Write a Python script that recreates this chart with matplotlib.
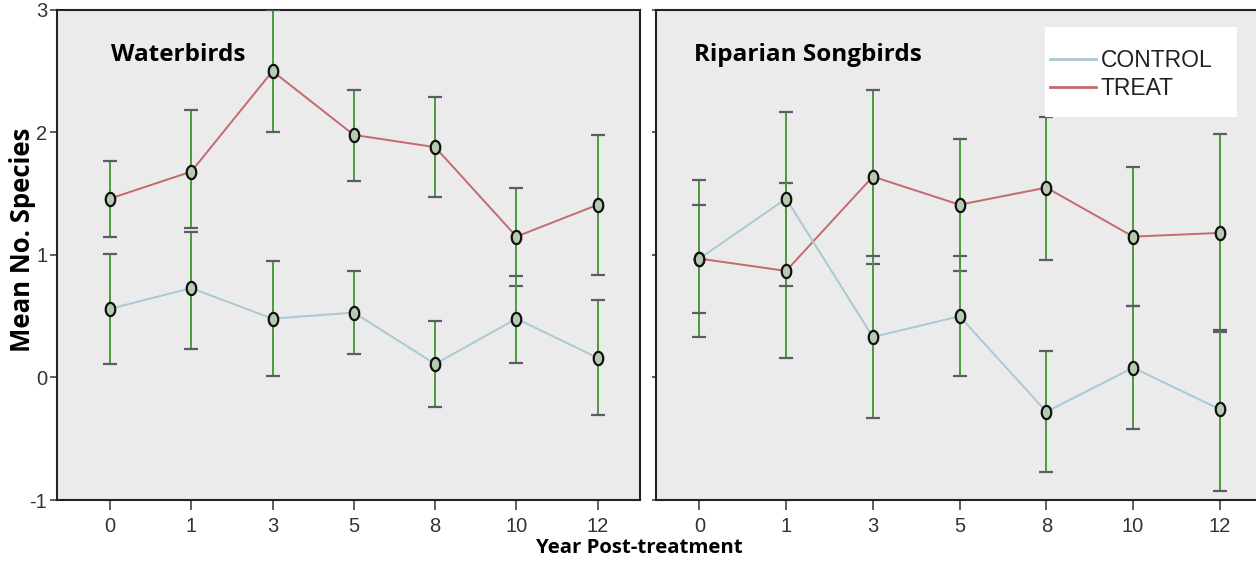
import numpy as np
import matplotlib
matplotlib.use("Agg")
import matplotlib.pyplot as plt
from matplotlib.path import Path
from matplotlib.lines import Line2D
from matplotlib.patches import Rectangle

plt.rcParams["axes.unicode_minus"] = False

# x categories
years = ["0", "1", "3", "5", "8", "10", "12"]

# Waterbirds
wb_control = [0.56, 0.73, 0.48, 0.53, 0.11, 0.48, 0.16]
wb_control_hi = [1.01, 1.19, 0.95, 0.87, 0.46, 0.83, 0.63]
wb_control_lo = [0.11, 0.23, 0.01, 0.19, -0.24, 0.12, -0.31]
wb_treat = [1.46, 1.68, 2.50, 1.98, 1.88, 1.15, 1.41]
wb_treat_hi = [1.77, 2.18, 3.00, 2.35, 2.29, 1.55, 1.98]
wb_treat_lo = [1.15, 1.22, 2.00, 1.60, 1.47, 0.75, 0.84]

# Riparian songbirds
rs_control = [0.97, 1.46, 0.33, 0.50, -0.28, 0.08, -0.26]
rs_control_hi = [1.41, 2.17, 0.99, 0.99, 0.22, 0.58, 0.39]
rs_control_lo = [0.53, 0.75, -0.33, 0.01, -0.77, -0.42, -0.93]
rs_treat = [0.97, 0.87, 1.64, 1.41, 1.55, 1.15, 1.18]
rs_treat_hi = [1.61, 1.59, 2.35, 1.95, 2.13, 1.72, 1.99]
rs_treat_lo = [0.33, 0.16, 0.93, 0.87, 0.96, 0.58, 0.37]

CTRL_COL = "#aac8d6"
TREAT_COL = "#c46a6e"
ERR_COL = "#4a9a3a"
CAP_COL = "#5c5c68"
BG = "#ebebeb"

tick_font = ["Liberation Sans Narrow", "Liberation Sans", "DejaVu Sans"]
title_font = ["Open Sans", "DejaVu Sans"]

# tall ellipse marker like the SPSS circles
t = np.linspace(0, 2 * np.pi, 60)
ell = Path(np.column_stack([0.72 * np.cos(t), np.sin(t)]), closed=True)


def draw_series(ax, x, mean, hi, lo, color):
    mean = np.array(mean)
    yerr = [mean - np.array(lo), np.array(hi) - mean]
    ax.plot(x, mean, color=color, lw=1.4, zorder=2)
    _, caps, bars = ax.errorbar(x, mean, yerr=yerr, fmt="none", ecolor=ERR_COL,
                                elinewidth=1.4, capsize=5, capthick=1.6, zorder=3)
    for c in caps:
        c.set_color(CAP_COL)
        c.set_markeredgecolor(CAP_COL)
    ax.plot(x, mean, ls="none", marker=ell, ms=9.5, mfc="#b7cbb2",
            mec="#111111", mew=1.6, zorder=4)


def style_axes(ax):
    ax.set_facecolor(BG)
    ax.set_ylim(-1, 3)
    ax.set_xticks(range(len(years)))
    ax.set_xticklabels(years)
    for s in ax.spines.values():
        s.set_color("#222222")
        s.set_linewidth(1.5)
    ax.tick_params(axis="x", length=7, width=1.2, colors="#444444", pad=5)
    ax.tick_params(axis="y", length=5, width=1.2, colors="#444444", pad=2)
    for lab in ax.get_xticklabels():
        lab.set_family(tick_font)
        lab.set_fontsize(14.5)
        lab.set_color("#333333")


fig = plt.figure(figsize=(12.56, 5.68), dpi=100)
fig.patch.set_facecolor("white")

x = np.arange(len(years))

ax1 = fig.add_axes([0.0454, 0.1197, 0.4642, 0.8628])
draw_series(ax1, x, wb_treat, wb_treat_hi, wb_treat_lo, TREAT_COL)
draw_series(ax1, x, wb_control, wb_control_hi, wb_control_lo, CTRL_COL)
style_axes(ax1)
ax1.set_xlim(-0.65, 6.52)
ax1.set_yticks([-1, 0, 1, 2, 3])
ax1.set_yticklabels(["-1", "0", "1", "2", "3"], family=tick_font, fontsize=14.5,
                    color="#333333")
ax1.text(0.092, 0.908, "Waterbirds", transform=ax1.transAxes, fontsize=17.5,
         fontweight="bold", family=title_font, va="center")

ax2 = fig.add_axes([0.5223, 0.1197, 0.4800, 0.8628])
draw_series(ax2, x, rs_treat, rs_treat_hi, rs_treat_lo, TREAT_COL)
draw_series(ax2, x, rs_control, rs_control_hi, rs_control_lo, CTRL_COL)
style_axes(ax2)
ax2.set_xlim(-0.5, 6.45)
ax2.set_yticks([-1, 0, 1, 2, 3])
ax2.set_yticklabels([])
ax2.tick_params(axis="y", length=3)
ax2.text(0.063, 0.908, "Riparian Songbirds", transform=ax2.transAxes, fontsize=17.5,
         fontweight="bold", family=title_font, va="center")

# white legend box drawn by hand (SPSS style, wider than the entries)
fig.patches.append(Rectangle((1045 / 1256, 1 - 117 / 568), 192 / 1256, 90 / 568,
                             transform=fig.transFigure, facecolor="white",
                             edgecolor="none", zorder=5))
handles = [Line2D([], [], color=CTRL_COL, lw=2), Line2D([], [], color=TREAT_COL, lw=2)]
leg = fig.legend(handles, ["CONTROL", "TREAT"], loc="center left",
                 bbox_to_anchor=(1050 / 1256, 1 - 74.5 / 568), frameon=False,
                 handlelength=2.0, handletextpad=0.2, labelspacing=0.25,
                 borderpad=0.0, borderaxespad=0.0,
                 prop={"family": ["Liberation Sans", "DejaVu Sans"], "size": 16.5})
leg.set_zorder(6)
for txt in leg.get_texts():
    txt.set_color("#222222")

fig.text(0.018, 0.577, "Mean No. Species", rotation=90, fontsize=18.5,
         fontweight="bold", family=title_font, va="center", ha="center")
fig.text(0.509, 0.035, "Year Post-treatment", fontsize=14.7,
         fontweight="bold", family=title_font, va="center", ha="center")

fig.savefig("out.png", dpi=100)
